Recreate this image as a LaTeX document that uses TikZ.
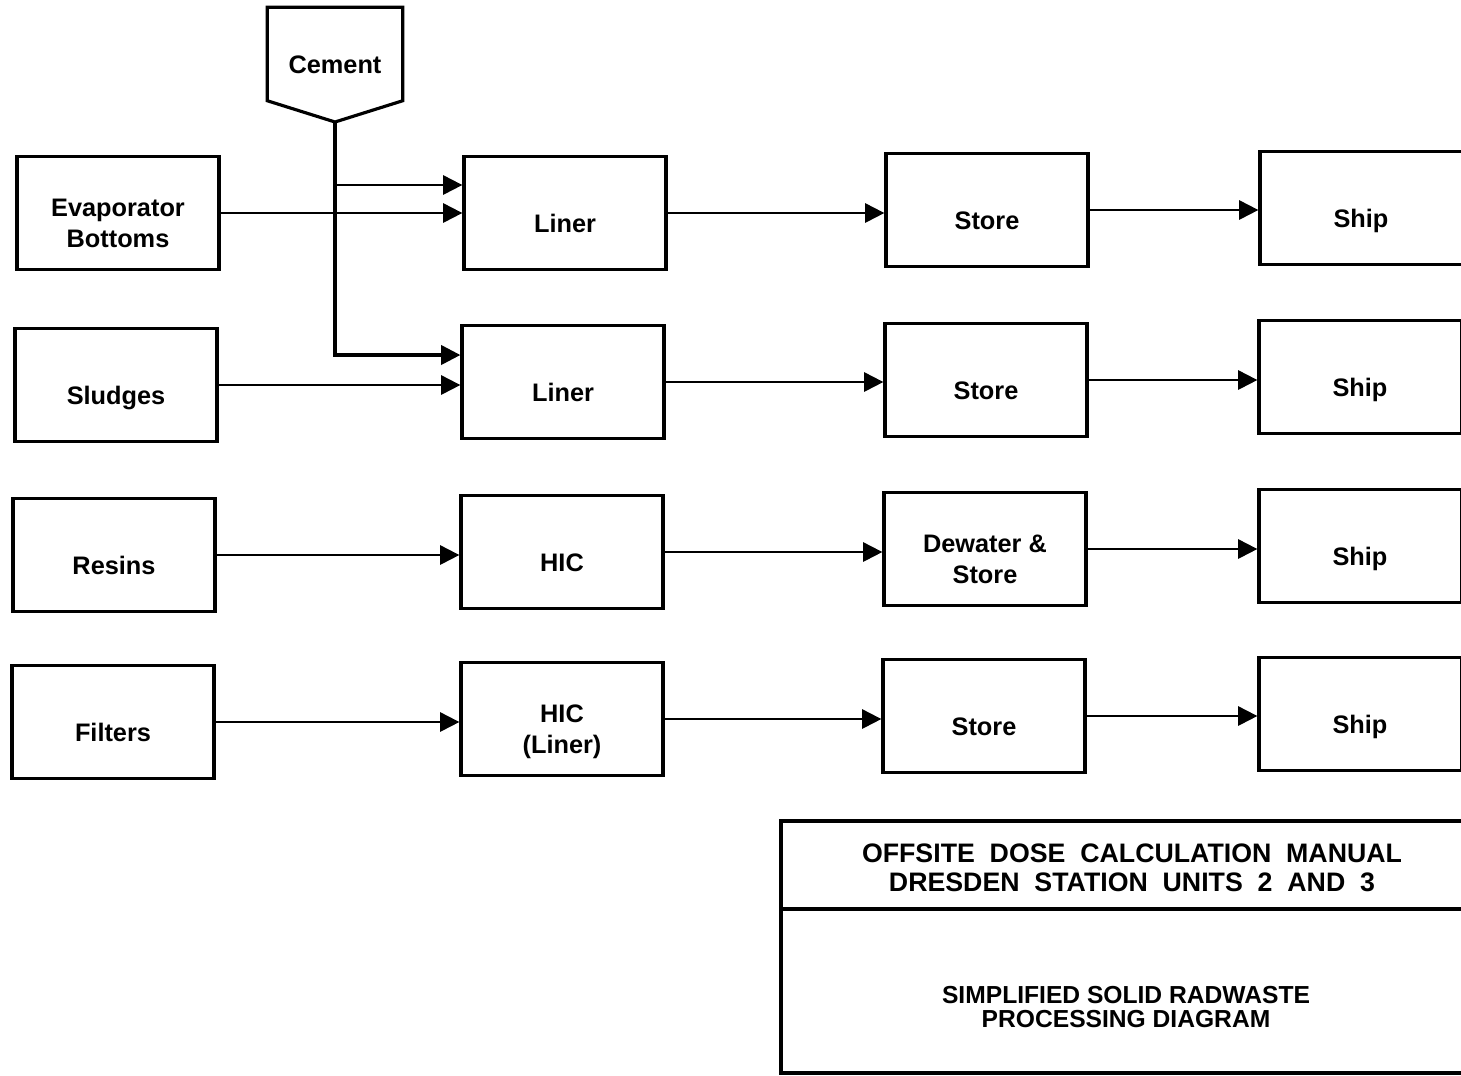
\documentclass[tikz,border=0pt]{standalone}
\usepackage{fontspec}
\setmainfont{Liberation Sans}
\usetikzlibrary{arrows.meta}
\newcommand\lowtxt[1]{\raisebox{-3.7pt}[\height][\depth]{\begin{tabular}{@{}c@{}}#1\end{tabular}}}

\begin{document}
\begin{tikzpicture}[x=0.01cm,y=-0.01cm]
\tikzstyle{every node}=[inner sep=1pt, font=\fontsize{7.2}{8.8}\selectfont\bfseries, align=center]
\tikzstyle{box}=[draw, line width=.9pt, minimum width=2.02cm, minimum height=1.13cm]
\tikzstyle{arr}=[line width=.6pt, -{Triangle[length=5.5pt,width=5.5pt]}]
\useasboundingbox (0,0) rectangle (1461,1075);
\draw (335,54) node (cem) [minimum width=1.34cm, minimum height=0.92cm] {\lowtxt{Cement}};
\draw[line width=.9pt] (cem.north west) -- (cem.north east) -- (cem.south east)
  -- (335,122) coordinate (tip) -- (cem.south west) -- cycle;
\draw (118,213) node (evap) [box] {\lowtxt{Evaporator\\Bottoms}};
\draw (565,213) node (lin1) [box] {\lowtxt{Liner}};
\draw (987,210) node (sto1) [box] {\lowtxt{Store}};
\draw (1361,208) node (shp1) [box] {\lowtxt{Ship}};
\draw (116,385) node (slud) [box] {\lowtxt{Sludges}};
\draw (563,382) node (lin2) [box] {\lowtxt{Liner}};
\draw (986,380) node (sto2) [box] {\lowtxt{Store}};
\draw (1360,377) node (shp2) [box] {\lowtxt{Ship}};
\draw (114,555) node (res) [box] {\lowtxt{Resins}};
\draw (562,552) node (hic1) [box] {\lowtxt{HIC}};
\draw (985,549) node (dew) [box] {\lowtxt{Dewater \&\\Store}};
\draw (1360,546) node (shp3) [box] {\lowtxt{Ship}};
\draw (113,722) node (filt) [box] {\lowtxt{Filters}};
\draw (562,719) node (hic2) [box] {\lowtxt{HIC\\(Liner)}};
\draw (984,716) node (sto4) [box] {\lowtxt{Store}};
\draw (1360,714) node (shp4) [box] {\lowtxt{Ship}};
\draw[arr, line width=.9pt] (tip) |- (lin2.west |- 0,355);
\draw[arr] (tip |- 0,185) -- (lin1.west |- 0,185);
\draw[arr] (evap) -- (lin1.west |- evap);
\draw[arr] (slud) -- (lin2.west |- slud);
\draw[arr] (res) -- (hic1.west |- res);
\draw[arr] (filt) -- (hic2.west |- filt);
\draw[arr] (lin1) -- (sto1.west |- lin1);
\draw[arr] (lin2) -- (sto2.west |- lin2);
\draw[arr] (hic1) -- (dew.west |- hic1);
\draw[arr] (hic2) -- (sto4.west |- hic2);
\draw[arr] (sto1) -- (shp1.west |- sto1);
\draw[arr] (sto2) -- (shp2.west |- sto2);
\draw[arr] (dew) -- (shp3.west |- dew);
\draw[arr] (sto4) -- (shp4.west |- sto4);
\draw[line width=1.3pt] (1461,821) -- (781,821) -- (781,1073) -- (1461,1073);
\draw[line width=1.1pt] (781,909) -- (1461,909);
\draw (1132,868) node (ttl) [font=\fontsize{7.6}{8.3}\selectfont\bfseries] {OFFSITE\ \ DOSE\ \ CALCULATION\ \ MANUAL\\DRESDEN\ \ STATION\ \ UNITS\ \ 2\ \ AND\ \ 3};
\draw (1126,1007) node (sub) [font=\fontsize{7}{6.8}\selectfont\bfseries] {SIMPLIFIED SOLID RADWASTE\\PROCESSING DIAGRAM};
\end{tikzpicture}
\end{document}
